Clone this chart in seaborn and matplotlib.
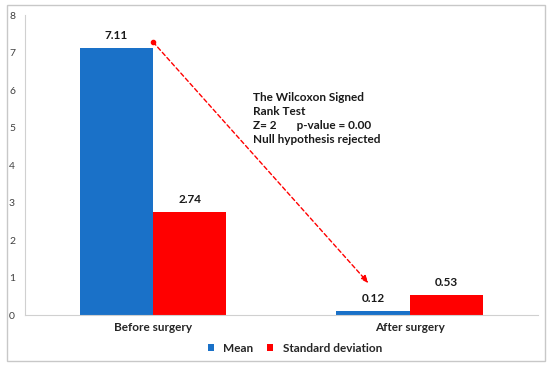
import matplotlib.pyplot as plt
import seaborn as sns
import pandas as pd
from matplotlib.patches import Rectangle

# data
groups = ["Before surgery", "After surgery"]
stats = ["Mean", "Standard deviation"]
mean_vals = [7.11, 0.12]
sd_vals = [2.74, 0.53]
test_text = "The Wilcoxon Signed\nRank Test\nZ= 2       p-value = 0.00\nNull hypothesis rejected"

df = pd.DataFrame({
    "group": groups * 2,
    "stat": [stats[0]] * 2 + [stats[1]] * 2,
    "value": mean_vals + sd_vals,
})

sns.set_style("white")
plt.rcParams["font.family"] = ["Lato", "DejaVu Sans"]

fig = plt.figure(figsize=(5.5, 3.66), dpi=100)
ax = fig.add_axes([0.045, 0.139, 0.933, 0.82])

sns.barplot(data=df, x="group", y="value", hue="stat", palette=["#1A71C8", "#FF0000"],
            width=0.57, saturation=1, linewidth=0, ax=ax)

for c in ax.containers:
    ax.bar_label(c, fmt="%.2f", padding=5, fontsize=8.5, fontweight="bold", color="#1a1a1a")

ax.set_xlim(-0.5, 1.5)
ax.set_ylim(0, 8)
ax.set_yticks(range(0, 9))
ax.set_xlabel("")
ax.set_ylabel("")
ax.tick_params(axis="y", labelsize=7.5, colors="#404040", length=3, width=0.8, pad=4)
ax.tick_params(axis="y", color="#BFBFBF")
ax.tick_params(axis="x", labelsize=8.5, length=0, pad=5)
for lab in ax.get_xticklabels():
    lab.set_fontweight("bold")
ax.set_xticks([-0.5, 0.5, 1.5], minor=True)
ax.tick_params(axis="x", which="minor", length=3, color="#BFBFBF")
for s in ["top", "right"]:
    ax.spines[s].set_visible(False)
for s in ["left", "bottom"]:
    ax.spines[s].set_color("#D0D0D0")
    ax.spines[s].set_linewidth(0.8)

# Wilcoxon test annotation
ax.annotate("", xy=(0.84, 0.85), xytext=(0.0, 7.28),
            arrowprops=dict(arrowstyle="-|>,head_length=0.45,head_width=0.18",
                            color="red", lw=1, ls=(0, (3, 2)), shrinkA=0, shrinkB=0))
ax.plot(0.0, 7.28, "o", color="red", ms=3)
ax.text(0.39, 5.95, test_text, va="top", ha="left", fontsize=8.5, fontweight="bold",
        color="#1a1a1a", linespacing=1.35)

leg = ax.legend(loc="center", bbox_to_anchor=(0.536, 0.048), bbox_transform=fig.transFigure,
                ncol=2, frameon=False, fontsize=8.5, handlelength=0.5, handleheight=0.5,
                handletextpad=0.8, columnspacing=1.2)
for t in leg.get_texts():
    t.set_fontweight("bold")

fig.patches.append(Rectangle((7 / 550, 5 / 366), 538 / 550, 356 / 366, transform=fig.transFigure,
                             fill=False, edgecolor="#C8C8C8", lw=1))

fig.savefig("out.png", dpi=100)
